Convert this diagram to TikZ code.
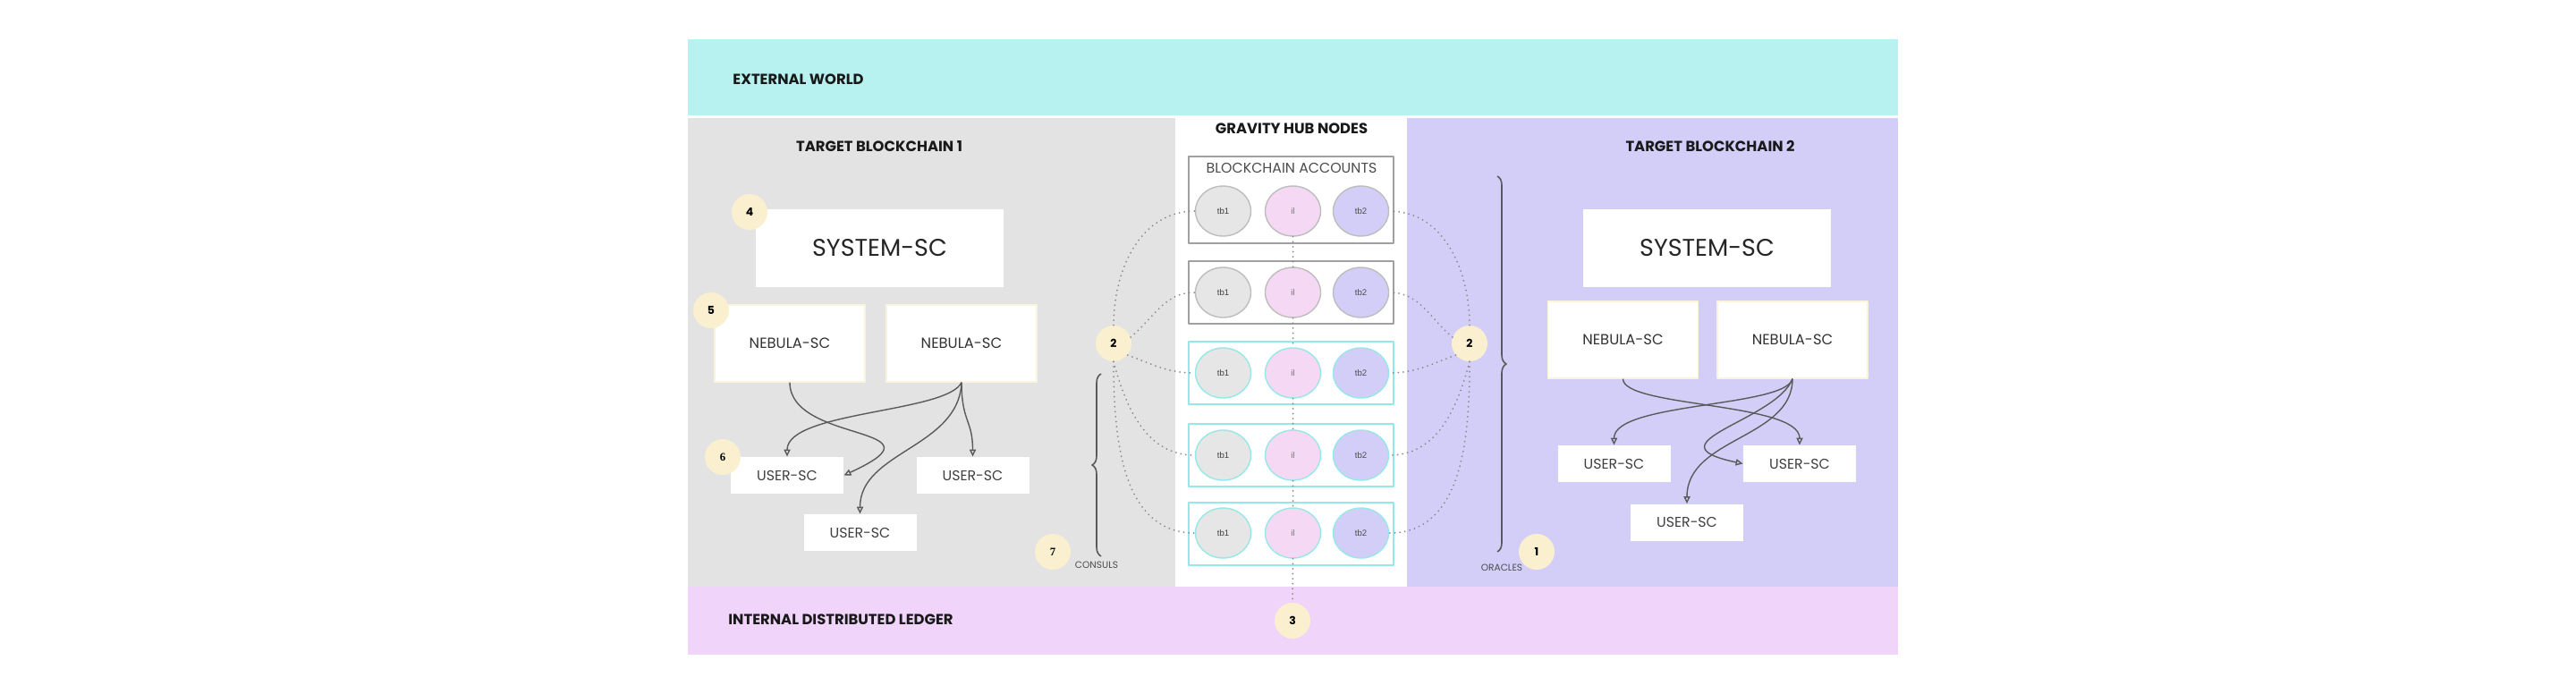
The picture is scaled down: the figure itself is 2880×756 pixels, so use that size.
\documentclass[tikz,border=0pt]{standalone}
\usepackage{fontspec}
\setmainfont{Poppins}
\newfontfamily\accfont{Liberation Sans}
\newfontfamily\numserif{Liberation Serif}
\usepackage{tikz}
\usetikzlibrary{positioning,arrows.meta,shapes.geometric,decorations.pathreplacing}
\definecolor{extcyan}{HTML}{B8F2F0}
\definecolor{tbgray}{HTML}{E3E3E3}
\definecolor{tbpurple}{HTML}{D2CEF7}
\definecolor{ledgerpink}{HTML}{F0D4FA}
\definecolor{numcream}{HTML}{FAF0D0}
\definecolor{ilpink}{HTML}{F5D9F4}
\definecolor{tbonegray}{HTML}{E6E6E6}
\definecolor{acccyan}{HTML}{96E8E8}
\definecolor{accline}{HTML}{A0A0A0}
\definecolor{linegray}{HTML}{5A5A5A}
\definecolor{dotgray}{HTML}{8A8A8A}
\definecolor{nebborder}{HTML}{FCF3DC}
\tikzset {
    style title/.style={
        font=\fontsize{8.2}{9}\selectfont\bfseries,
        text=black!90,
        inner sep=0pt,
    },
    style sys/.style={
        fill=white,
        rectangle, % Set the shape as a rectangle
        minimum width=138.5pt,
        minimum height=43.5pt,
        font=\fontsize{13.5}{15}\selectfont,
        text=black!85,
        align=center,
    },
    style neb/.style={
        fill=white,
        draw=nebborder,
        line width=0.6pt,
        rectangle, % Set the shape as a rectangle
        minimum width=84pt,
        minimum height=43pt,
        font=\fontsize{8.2}{9}\selectfont,
        text=black!80,
    },
    style usr/.style={
        fill=white,
        rectangle, % Set the shape as a rectangle
        minimum width=63pt,
        minimum height=20.5pt,
        font=\fontsize{7.9}{9}\selectfont,
        text=black!75,
    },
    style num/.style={
        circle,
        fill=numcream,
        minimum size=20pt,
        inner sep=0pt,
        font=\fontsize{6.2}{7}\selectfont\bfseries,
        text=black,
    },
    style acc/.style={
        draw=accline,
        line width=0.65pt,
        rectangle, % Set the shape as a rectangle
        minimum width=114.5pt,
        minimum height=35pt,
    },
    style tb1/.style={
        ellipse,
        fill=tbonegray,
        draw=accline!70,
        line width=0.7pt,
        minimum width=31pt,
        minimum height=28pt,
        inner sep=0pt,
        font=\accfont\fontsize{4.8}{5}\selectfont,
        text=black!75,
    },
    style il/.style={style tb1, fill=ilpink, text=black!55},
    style tb2/.style={style tb1, fill=tbpurple, text=black!70},
    style small/.style={
        font=\fontsize{5.3}{6}\selectfont,
        text=black!70,
        inner sep=0pt,
    },
    style dots/.style={
        draw=dotgray,
        line width=1pt,
        line cap=round,
        dash pattern=on 0pt off 2.8pt,
    },
    style arr/.style={
        draw=linegray,
        line width=0.7pt,
        -{Triangle[open, length=4pt, width=3.6pt]},
    },
    style brace/.style={
        draw=linegray,
        line width=0.8pt,
        decorate,
        decoration={brace, amplitude=5pt},
    },
}
\begin{document}
\begin{tikzpicture}
[x=0.5pt, y=-0.5pt, line join=round]
\useasboundingbox (0,0) rectangle (2880,756);
\fill[white] (0,0) rectangle (2880,756);
% bands and panels
\fill[extcyan] (769,44) rectangle (2122,129);
\fill[tbgray] (769,132) rectangle (1314,656);
\fill[tbpurple] (1573,132) rectangle (2122,656);
\fill[ledgerpink] (769,656) rectangle (2122,732);

\node[style title, anchor=west] (extw) at (819,89) {EXTERNAL WORLD};
\node[style title] (tbonet) at (983,164) {TARGET BLOCKCHAIN 1};
\node[style title] (hubt) at (1444,144) {GRAVITY HUB NODES};
\node[style title] (tbtwot) at (1912,163) {TARGET BLOCKCHAIN 2};
\node[style title, anchor=west] (ledgert) at (814,693) {INTERNAL DISTRIBUTED LEDGER};

% target blockchain 1
\node[style sys] (sys1) at (983.5,277.5) {SYSTEM-SC};
\node[style neb] (neb1a) at (883,384) {NEBULA-SC};
\node[style neb] (neb1b) at (1075,384) {NEBULA-SC};
\node[style usr] (usr1a) at (880,531.5) {USER-SC};
\node[style usr] (usr1b) at (1087.5,531.5) {USER-SC};
\node[style usr] (usr1c) at (961.5,595.5) {USER-SC};

% target blockchain 2
\node[style sys] (sys2) at (1908.5,277.5) {SYSTEM-SC};
\node[style neb] (neb2a) at (1814.5,380) {NEBULA-SC};
\node[style neb] (neb2b) at (2004,380) {NEBULA-SC};
\node[style usr] (usr2a) at (1804.5,518.5) {USER-SC};
\node[style usr] (usr2b) at (2012,518.5) {USER-SC};
\node[style usr] (usr2c) at (1886,584) {USER-SC};

% gravity hub nodes
\node[style acc, minimum height=48.5pt] (acc1) at (1443.5,223.5) {};
\node[style acc] (acc2) at (1443.5,327) {};
\node[style acc, draw=acccyan] (acc3) at (1443.5,417) {};
\node[style acc, draw=acccyan] (acc4) at (1443.5,509) {};
\node[style acc, draw=acccyan] (acc5) at (1443.5,597) {};
\node[font=\fontsize{7.9}{9}\selectfont, text=black!70, inner sep=0pt] (acct) at (1444,188) {BLOCKCHAIN ACCOUNTS};

\node[style tb1] (tb1r1) at (1367.5,236) {tb1};
\node[style il] (ilr1) at (1445.5,236) {il};
\node[style tb2] (tb2r1) at (1521.5,236) {tb2};
\node[style tb1] (tb1r2) at (1367.5,327) {tb1};
\node[style il] (ilr2) at (1445.5,327) {il};
\node[style tb2] (tb2r2) at (1521.5,327) {tb2};
\node[style tb1, draw=acccyan] (tb1r3) at (1367.5,417) {tb1};
\node[style il, draw=acccyan] (ilr3) at (1445.5,417) {il};
\node[style tb2, draw=acccyan] (tb2r3) at (1521.5,417) {tb2};
\node[style tb1, draw=acccyan] (tb1r4) at (1367.5,509) {tb1};
\node[style il, draw=acccyan] (ilr4) at (1445.5,509) {il};
\node[style tb2, draw=acccyan] (tb2r4) at (1521.5,509) {tb2};
\node[style tb1, draw=acccyan] (tb1r5) at (1367.5,596) {tb1};
\node[style il, draw=acccyan] (ilr5) at (1445.5,596) {il};
\node[style tb2, draw=acccyan] (tb2r5) at (1521.5,596) {tb2};

% numbered markers
\node[style num] (n4) at (838,237) {4};
\node[style num] (n5) at (795,347) {5};
\node[style num, font=\numserif\fontsize{6.4}{7}\selectfont\bfseries] (n6) at (808,511) {6};
\node[style num, font=\numserif\fontsize{6.4}{7}\selectfont\bfseries] (n7) at (1177,617) {7};
\node[style num] (n2a) at (1245,384) {2};
\node[style num] (n2b) at (1643,384) {2};
\node[style num] (n1) at (1718,617) {1};
\node[style num] (n3) at (1445,694) {3};

\draw[style brace] (1231,622) -- (1231,418);
\draw[style brace] (1674,197) -- (1674,617);
\node[style small] (consuls) at (1226,632) {CONSULS};
\node[style small] (oracles) at (1679,635) {ORACLES};

% consuls and oracles to accounts
\draw[style dots] (n2a.north) to[out=90, in=180] (tb1r1.west);
\draw[style dots] (n2a.20) to[out=40, in=180] (tb1r2.west);
\draw[style dots] (n2a.-40) to[out=-20, in=180] (tb1r3.west);
\draw[style dots] (n2a.south) to[out=-75, in=180] (tb1r4.west);
\draw[style dots] (n2a.south) to[out=-90, in=180] (tb1r5.west);
\draw[style dots] (n2b.north) to[out=90, in=0] (tb2r1.east);
\draw[style dots] (n2b.160) to[out=140, in=0] (tb2r2.east);
\draw[style dots] (n2b.220) to[out=200, in=0] (tb2r3.east);
\draw[style dots] (n2b.south) to[out=-105, in=0] (tb2r4.east);
\draw[style dots] (n2b.south) to[out=-90, in=0] (tb2r5.east);
\draw[style dots] (ilr1.south) -- (ilr2.north);
\draw[style dots] (ilr2.south) -- (ilr3.north);
\draw[style dots] (ilr3.south) -- (ilr4.north);
\draw[style dots] (ilr4.south) -- (ilr5.north);
\draw[style dots] (ilr5.south) -- (n3.north);

% nebula to user contracts
\draw[style arr] (neb1a.south) .. controls +(0,69) and +(122,-56) .. (usr1a.east);
\draw[style arr] (neb1b.south) .. controls +(-16,34) and +(0,-51) .. (usr1a.north);
\draw[style arr] (neb1b.south) .. controls +(-3,73) and +(0,-70) .. (usr1c.north);
\draw[style arr] (neb1b.south) .. controls +(0,44) and +(0,-41) .. (usr1b.north);
\draw[style arr] (neb2a.south) .. controls +(0,32) and +(0,-48) .. (usr2b.north);
\draw[style arr] (neb2b.south) .. controls +(-8,32) and +(0,-48) .. (usr2a.north);
\draw[style arr] (neb2b.south) .. controls +(-18,47) and +(-109,-23) .. (usr2b.west);
\draw[style arr] (neb2b.south) .. controls +(0,67) and +(0,-74) .. (usr2c.north);
\end{tikzpicture}
\end{document}
